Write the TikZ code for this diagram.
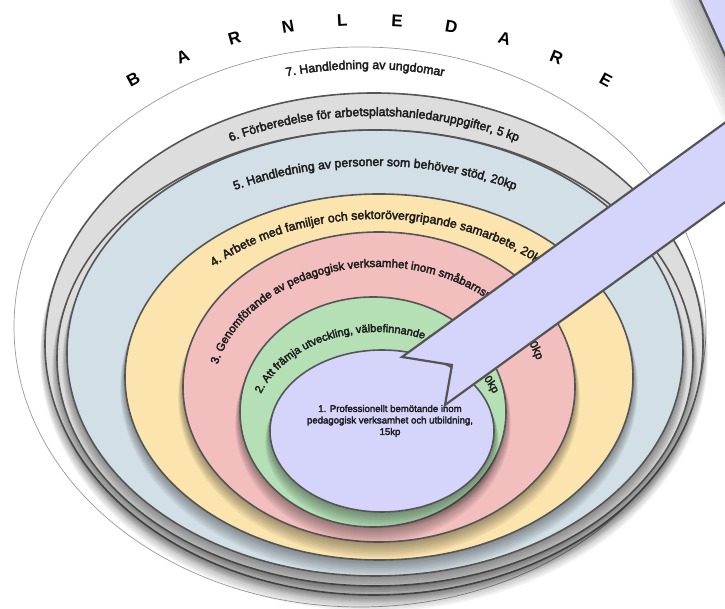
\documentclass[tikz,border=0pt]{standalone}
\usepackage{fontspec}
\setmainfont{Liberation Sans}
\newfontfamily\ringfont[FakeBold=3]{Liberation Sans}
\usetikzlibrary{decorations.text}

\definecolor{ringline}{RGB}{85,85,85}
\definecolor{lavender}{RGB}{213,213,252}
\definecolor{mint}{RGB}{181,224,182}
\definecolor{rose}{RGB}{243,190,190}
\definecolor{sand}{RGB}{252,228,174}
\definecolor{mist}{RGB}{211,223,230}
\definecolor{ash}{RGB}{221,221,221}
\definecolor{inktext}{RGB}{30,30,30}

\begin{document}
\begin{tikzpicture}[x=1pt,y=1pt,
    band/.style={draw=ringline, line width=1.6pt},
    ringtext/.style 2 args={decorate, decoration={text along path, text align=center,
        text color=inktext, text={|\ringfont\fontsize{#1}{14}\selectfont|#2}}},
    letter/.style={font=\fontsize{17}{19}\selectfont\bfseries}]
    \useasboundingbox (0,0) rectangle (725,609);
    \clip (0,0) rectangle (725,609);

    % ring 7
    \draw[draw=gray!80, line width=.7pt, fill=white] (360,282) ellipse [x radius=346, y radius=280];

    % rings 6 .. 1, each with a soft shadow
    \foreach \cx/\cy/\rx/\ry/\col in {374/265/329/251/ash, 375/251/318/228/ash,
        375/256/308/223/mist, 379/232/254/183/sand, 379/222/196/155/rose,
        373/197/133/115/mint, 382/178/112/81/lavender}
    {
      \foreach \k in {1,...,8}
        \fill[black, opacity=.05] (\cx,\cy-1.4*\k) ellipse [x radius=\rx+.6*\k, y radius=\ry+.6*\k];
      \draw[band, fill=\col] (\cx,\cy) ellipse [x radius=\rx, y radius=\ry];
    }

    \path[ringtext={12.3}{7. Handledning av ungdomar}, shift={(365,274)}]
      (150:335 and 266) arc[start angle=150, end angle=30, x radius=335, y radius=266];
    \path[ringtext={12.3}{6. Förberedelse för arbetsplatshanledaruppgifter, 5 kp}, shift={(374,259)}]
      (155:315 and 234) arc[start angle=155, end angle=25, x radius=315, y radius=234];
    \path[ringtext={12.3}{5. Handledning av personer som behöver stöd, 20kp}, shift={(375,249)}]
      (160:290 and 194) arc[start angle=160, end angle=20, x radius=290, y radius=194];
    \path[ringtext={12.3}{4. Arbete med familjer och sektorövergripande samarbete, 20kp}, shift={(378,214)}]
      (175:240 and 176) arc[start angle=175, end angle=5, x radius=240, y radius=176];
    \path[ringtext={11.5}{3. Genomförande av pedagogisk verksamhet inom småbarnspedagogik, 40kp}, shift={(378,214)}]
      (201:165 and 128) arc[start angle=201, end angle=-19, x radius=165, y radius=128];
    \path[ringtext={11}{2. Att främja utveckling, välbefinnande och lärande, 30kp}, shift={(377,179)}]
      (200:125 and 98) arc[start angle=200, end angle=-20, x radius=125, y radius=98];

    \node[align=center, font=\ringfont\fontsize{9.6}{11.5}\selectfont, text=inktext] (core) at (390,188)
      {1. Professionellt bemötande inom\\pedagogisk verksamhet och utbildning,\\15kp};

    % call-out
    \foreach \k in {1,...,8}
      \fill[black, opacity=.04, xshift=-3*\k, yshift=-2*\k] (668,680) -- (748,503) -- (800,503) -- (800,680) -- cycle;
    \draw[draw=ringline, line width=2.2pt, fill=lavender]
      (668,680) -- (748,503) -- (402,252) -- (452,244) -- (445,204) -- (800,461) -- (800,680) -- cycle;

    \foreach \l [count=\i] in {B,A,R,N,L,E,D,A,R,E}
    {
      \pgfmathsetmacro\a{118.5-6.35*(\i-1)}
      \node[letter, rotate=\a-90] (letter\i) at ([shift={(369,95)}]\a:494) {\l};
    }
\end{tikzpicture}
\end{document}
